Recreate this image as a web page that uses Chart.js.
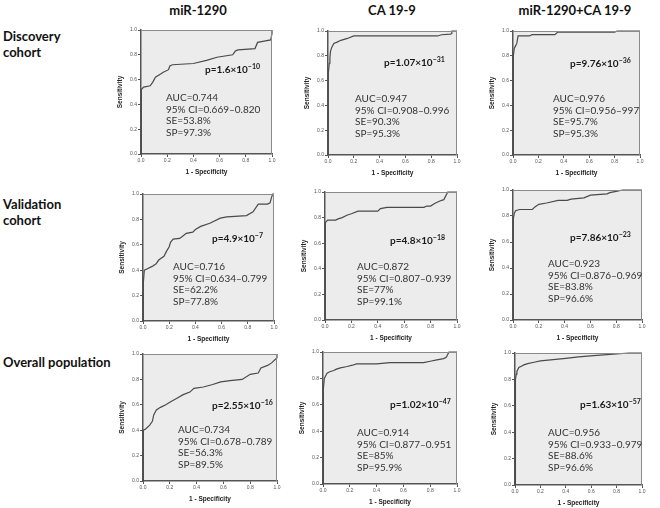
<!DOCTYPE html>
<html>
<head>
<meta charset="utf-8">
<script src="https://cdn.jsdelivr.net/npm/chart.js@4.4.0/dist/chart.umd.min.js"></script>
<style>
    body { margin: 0; background: #fff; width: 660px; height: 508px; position: relative; overflow: hidden; font-family: Lato, sans-serif; }
    .abs { position: absolute; white-space: nowrap; }
    .col { font-weight: bold; font-size: 13px; line-height: 16px; color: #111; transform: translateX(-50%); }
    .row { font-weight: bold; font-size: 13px; line-height: 16px; color: #111; }
    .pv { font-weight: bold; font-size: 10px; line-height: 12px; color: #1a1a1a; }
    .pv sup { font-size: 7px; line-height: 0; vertical-align: 4px; }
    .st { font-size: 10px; line-height: 11.7px; color: #333; }
    canvas { position: absolute; }
</style>
</head>
<body>
<script>
// Titres et valeurs
const columnTitles = ['miR-1290', 'CA 19-9', 'miR-1290+CA 19-9'];
const rowLabels = [['Discovery', 'cohort'], ['Validation', 'cohort'], ['Overall population']];
const axisTicks = [0, 0.2, 0.4, 0.6, 0.8, 1.0];

// Courbes ROC : 1 - spécificité (fpr) et sensibilité (tpr)
const fprDiscMir = [0, 0, 0.005, 0.02, 0.07, 0.09, 0.11, 0.15, 0.17, 0.21, 0.22, 0.24, 0.40, 0.50, 0.58, 0.70, 0.72, 0.74, 0.87, 0.89, 0.94, 0.99, 1.0, 1.0];
const tprDiscMir = [0, 0.41, 0.52, 0.54, 0.55, 0.58, 0.62, 0.645, 0.66, 0.68, 0.71, 0.72, 0.73, 0.755, 0.78, 0.80, 0.83, 0.84, 0.85, 0.90, 0.91, 0.92, 0.97, 1.0];

const fprDiscCa = [0, 0, 0.005, 0.01, 0.015, 0.02, 0.03, 0.045, 0.07, 0.10, 0.15, 0.20, 0.85, 0.88, 0.95, 0.96, 0.96, 1.0];
const tprDiscCa = [0, 0.60, 0.66, 0.74, 0.79, 0.84, 0.87, 0.90, 0.91, 0.925, 0.94, 0.96, 0.96, 0.97, 0.975, 0.98, 1.0, 1.0];

const fprDiscComb = [0, 0, 0.005, 0.01, 0.02, 0.03, 0.04, 0.13, 0.15, 0.33, 0.35, 0.80, 0.82, 1.0];
const tprDiscComb = [0, 0.73, 0.80, 0.86, 0.88, 0.90, 0.96, 0.96, 0.97, 0.97, 0.99, 0.99, 1.0, 1.0];

const fprValMir = [0, 0, 0.005, 0.01, 0.03, 0.07, 0.10, 0.12, 0.16, 0.18, 0.20, 0.21, 0.23, 0.28, 0.30, 0.33, 0.38, 0.40, 0.44, 0.51, 0.59, 0.64, 0.79, 0.84, 0.88, 0.95, 0.97, 0.98, 0.99, 1.0];
const tprValMir = [0, 0.13, 0.30, 0.40, 0.41, 0.43, 0.45, 0.48, 0.51, 0.55, 0.585, 0.62, 0.645, 0.65, 0.665, 0.69, 0.70, 0.72, 0.745, 0.77, 0.81, 0.82, 0.83, 0.86, 0.92, 0.92, 0.93, 0.97, 1.0, 1.0];

const fprValCa = [0, 0, 0.005, 0.02, 0.08, 0.10, 0.13, 0.17, 0.20, 0.25, 0.40, 0.42, 0.47, 0.75, 0.77, 0.80, 0.83, 0.87, 0.90, 0.91, 0.93, 1.0];
const tprValCa = [0, 0.70, 0.76, 0.78, 0.78, 0.79, 0.80, 0.82, 0.83, 0.85, 0.85, 0.87, 0.88, 0.88, 0.89, 0.89, 0.91, 0.93, 0.94, 0.96, 1.0, 1.0];

const fprValComb = [0, 0, 0.005, 0.01, 0.02, 0.05, 0.15, 0.17, 0.20, 0.26, 0.35, 0.42, 0.45, 0.55, 0.60, 0.73, 0.75, 0.80, 0.85, 1.0];
const tprValComb = [0, 0.72, 0.78, 0.82, 0.84, 0.85, 0.85, 0.87, 0.89, 0.90, 0.92, 0.92, 0.93, 0.94, 0.96, 0.97, 0.98, 0.99, 1.0, 1.0];

const fprAllMir = [0, 0, 0.005, 0.02, 0.05, 0.07, 0.08, 0.10, 0.13, 0.17, 0.20, 0.25, 0.30, 0.35, 0.38, 0.45, 0.52, 0.58, 0.65, 0.74, 0.80, 0.86, 0.88, 0.93, 0.96, 1.0, 1.0];
const tprAllMir = [0, 0.30, 0.40, 0.41, 0.44, 0.47, 0.52, 0.56, 0.58, 0.60, 0.62, 0.65, 0.68, 0.70, 0.73, 0.74, 0.76, 0.78, 0.79, 0.80, 0.84, 0.85, 0.89, 0.91, 0.93, 0.97, 1.0];

const fprAllCa = [0, 0, 0.003, 0.005, 0.01, 0.02, 0.03, 0.05, 0.08, 0.10, 0.13, 0.18, 0.22, 0.25, 0.40, 0.50, 0.75, 0.80, 0.85, 0.90, 0.92, 0.94, 1.0];
const tprAllCa = [0, 0.58, 0.65, 0.72, 0.80, 0.82, 0.84, 0.85, 0.86, 0.87, 0.88, 0.89, 0.90, 0.91, 0.91, 0.92, 0.92, 0.93, 0.94, 0.95, 0.96, 1.0, 1.0];

const fprAllComb = [0, 0, 0.003, 0.007, 0.01, 0.015, 0.03, 0.05, 0.07, 0.10, 0.15, 0.20, 0.30, 0.40, 0.50, 0.62, 0.75, 0.90, 1.0];
const tprAllComb = [0, 0.68, 0.75, 0.80, 0.84, 0.86, 0.89, 0.90, 0.91, 0.92, 0.93, 0.94, 0.95, 0.96, 0.97, 0.98, 0.99, 1.0, 1.0];

// Statistiques affichées dans chaque panneau (ordre : ligne par ligne)
const pCoef = ['1.6', '1.07', '9.76', '4.9', '4.8', '7.86', '2.55', '1.02', '1.63'];
const pExp = ['−10', '−31', '−36', '−7', '−18', '−23', '−16', '−47', '−57'];
const aucValues = ['0.744', '0.947', '0.976', '0.716', '0.872', '0.923', '0.734', '0.914', '0.956'];
const ciValues = ['0.669–0.820', '0.908–0.996', '0.956–997', '0.634–0.799', '0.807–0.939', '0.876–0.969', '0.678–0.789', '0.877–0.951', '0.933–0.979'];
const seValues = ['53.8%', '90.3%', '95.7%', '62.2%', '77%', '83.8%', '56.3%', '85%', '88.6%'];
const spValues = ['97.3%', '95.3%', '95.3%', '77.8%', '99.1%', '96.6%', '89.5%', '95.9%', '96.6%'];

const curves = [
    [fprDiscMir, tprDiscMir], [fprDiscCa, tprDiscCa], [fprDiscComb, tprDiscComb],
    [fprValMir, tprValMir], [fprValCa, tprValCa], [fprValComb, tprValComb],
    [fprAllMir, tprAllMir], [fprAllCa, tprAllCa], [fprAllComb, tprAllComb]
];

// Mise en page (pixels)
const plotBoxes = [
    [141, 30, 272, 154], [328, 31, 457, 155], [513, 31, 640, 155],
    [143, 194, 274, 321], [325, 192, 457, 320], [513, 190, 642, 320],
    [143, 354, 277, 481], [323, 352, 457, 484], [515, 353, 642, 485]
];
const pPos = [[205, 69], [384, 62], [570, 63], [212, 238], [390, 240], [570, 237], [212, 405], [390, 404], [580, 404]];
const statPos = [[166, 98], [355, 99], [553, 99], [173, 267], [357, 267], [548, 264], [178, 430], [357, 433], [548, 433]];
const colX = [198, 392, 575];
const rowY = [36, 204, 362];

const Y_AXIS_W = 26;
const X_AXIS_H = 24;
const PAD = 8;

function addDiv(cls, html, left, top) {
    const d = document.createElement('div');
    d.className = 'abs ' + cls;
    d.innerHTML = html;
    d.style.left = left + 'px';
    d.style.top = top + 'px';
    document.body.appendChild(d);
    return d;
}

// Fond gris et cadre fin haut/droite
const framePlugin = {
    id: 'frame',
    beforeDraw(chart) {
        const a = chart.chartArea;
        const ctx = chart.ctx;
        ctx.save();
        ctx.fillStyle = '#ececec';
        ctx.fillRect(a.left, a.top, a.right - a.left, a.bottom - a.top);
        ctx.restore();
    },
    afterDraw(chart) {
        const a = chart.chartArea;
        const ctx = chart.ctx;
        ctx.save();
        ctx.strokeStyle = '#8a8a8a';
        ctx.lineWidth = 1;
        ctx.beginPath();
        ctx.moveTo(a.left, a.top + 0.5);
        ctx.lineTo(a.right - 0.5, a.top + 0.5);
        ctx.lineTo(a.right - 0.5, a.bottom);
        ctx.stroke();
        ctx.restore();
    }
};

function axisOptions(title, isX) {
    return {
        type: 'linear',
        min: 0,
        max: 1,
        afterFit: s => { if (isX) s.height = X_AXIS_H; else s.width = Y_AXIS_W; },
        afterBuildTicks: s => { s.ticks = axisTicks.map(v => ({ value: v })); },
        ticks: {
            callback: v => v.toFixed(1),
            font: { size: 5, family: 'Liberation Sans' },
            color: '#555',
            padding: 1,
            maxRotation: 0,
            autoSkip: false
        },
        grid: { drawOnChartArea: false, tickLength: 3, color: '#555' },
        border: { color: '#555', width: 1.5 },
        title: {
            display: true,
            text: title,
            font: { size: 6.5, weight: 'bold', family: 'Liberation Sans' },
            color: '#222',
            padding: isX ? { top: 2, bottom: 2 } : { top: 1, bottom: 1 }
        }
    };
}

columnTitles.forEach((t, i) => addDiv('col', t, colX[i], rowY[0] - 34));
rowLabels.forEach((lines, i) => addDiv('row', lines.join('<br>'), 3, rowY[i] - 8));

curves.forEach(([fpr, tpr], i) => {
    const [l, t, r, b] = plotBoxes[i];
    const w = r - l + Y_AXIS_W + PAD;
    const h = b - t + PAD + X_AXIS_H;
    const canvas = document.createElement('canvas');
    canvas.width = w;
    canvas.height = h;
    canvas.style.left = (l - Y_AXIS_W) + 'px';
    canvas.style.top = (t - PAD) + 'px';
    canvas.style.width = w + 'px';
    canvas.style.height = h + 'px';
    document.body.appendChild(canvas);

    new Chart(canvas, {
        type: 'scatter',
        data: {
            datasets: [{
                data: fpr.map((x, k) => ({ x: x, y: tpr[k] })),
                showLine: true,
                borderColor: '#4a4a4a',
                borderWidth: 1.2,
                pointRadius: 0,
                tension: 0,
                clip: 2
            }]
        },
        options: {
            responsive: false,
            animation: false,
            events: [],
            layout: { padding: { left: 0, top: PAD, right: PAD, bottom: 0 } },
            plugins: { legend: { display: false }, tooltip: { enabled: false } },
            scales: {
                x: axisOptions('1 - Specificity', true),
                y: axisOptions('Sensitivity', false)
            }
        },
        plugins: [framePlugin]
    });

    addDiv('pv', 'p=' + pCoef[i] + '×10<sup>' + pExp[i] + '</sup>', pPos[i][0], pPos[i][1] - 6);
    addDiv('st',
        'AUC=' + aucValues[i] + '<br>95% CI=' + ciValues[i] + '<br>SE=' + seValues[i] + '<br>SP=' + spValues[i],
        statPos[i][0], statPos[i][1] - 6);
});
</script>
</body>
</html>
